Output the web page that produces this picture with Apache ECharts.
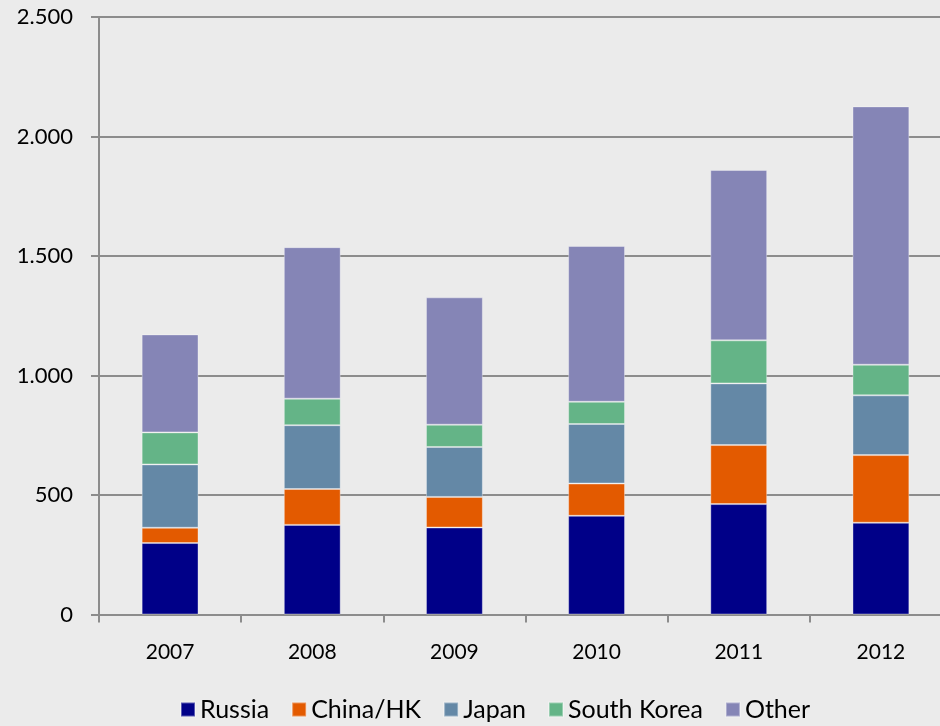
<!DOCTYPE html>
<html>
<head>
<meta charset="utf-8">
<script src="https://cdn.jsdelivr.net/npm/echarts@6/dist/echarts.min.js"></script>
<style>
html,body{margin:0;padding:0;background:#ebebeb;}
#chart{width:940px;height:726px;}
</style>
</head>
<body>
<div id="chart"></div>
<script>
const categories = ['2007','2008','2009','2010','2011','2012'];
const russia     = [299, 375, 364, 413, 462, 384];
const chinaHK    = [64, 150, 128, 135, 247, 283];
const japan      = [265, 267, 209, 249, 258, 250];
const southKorea = [134, 111, 93, 93, 180, 128];
const other      = [410, 634, 533, 652, 713, 1081];
const yTicks = {min: 0, max: 2500, interval: 500};

const seriesDefs = [
  {name: 'Russia', data: russia, color: '#000088'},
  {name: 'China/HK', data: chinaHK, color: '#e35a00'},
  {name: 'Japan', data: japan, color: '#6488a6'},
  {name: 'South Korea', data: southKorea, color: '#64b487'},
  {name: 'Other', data: other, color: '#8585b6'}
];

const chart = echarts.init(document.getElementById('chart'));
const axisColor = '#8c8c8c';
chart.setOption({
  backgroundColor: '#ebebeb',
  animation: false,
  textStyle: {fontFamily: 'Lato'},
  grid: {left: 99, top: 17, right: -12, bottom: 111.5, containLabel: false, outerBoundsMode: 'none'},
  legend: {
    top: 697,
    left: 180,
    padding: 0,
    icon: 'rect',
    itemWidth: 14,
    itemHeight: 14,
    itemGap: 22,
    textStyle: {fontSize: 25, color: '#000', fontFamily: 'Lato'},
    data: seriesDefs.map(s => s.name)
  },
  xAxis: {
    type: 'category',
    data: categories,
    boundaryGap: true,
    axisLine: {show: true, lineStyle: {color: axisColor, width: 2}},
    axisTick: {show: true, length: 8, lineStyle: {color: axisColor, width: 2}},
    axisLabel: {color: '#000', fontSize: 21, margin: 27, fontFamily: 'Lato'}
  },
  yAxis: {
    type: 'value',
    min: yTicks.min,
    max: yTicks.max,
    interval: yTicks.interval,
    axisLine: {show: true, lineStyle: {color: axisColor, width: 2}},
    axisTick: {show: true, length: 8, lineStyle: {color: axisColor, width: 2}},
    splitLine: {show: true, lineStyle: {color: axisColor, width: 2}},
    axisLabel: {
      color: '#000', fontSize: 22, margin: 26, fontFamily: 'Lato',
      formatter: v => String(v).replace(/\B(?=(\d{3})+(?!\d))/g, '.')
    }
  },
  series: seriesDefs.map(s => ({
    name: s.name,
    type: 'bar',
    stack: 'total',
    data: s.data,
    barWidth: '40%',
    itemStyle: {color: s.color, borderColor: 'rgba(255,255,255,0.35)', borderWidth: 1}
  }))
});
</script>
</body>
</html>
